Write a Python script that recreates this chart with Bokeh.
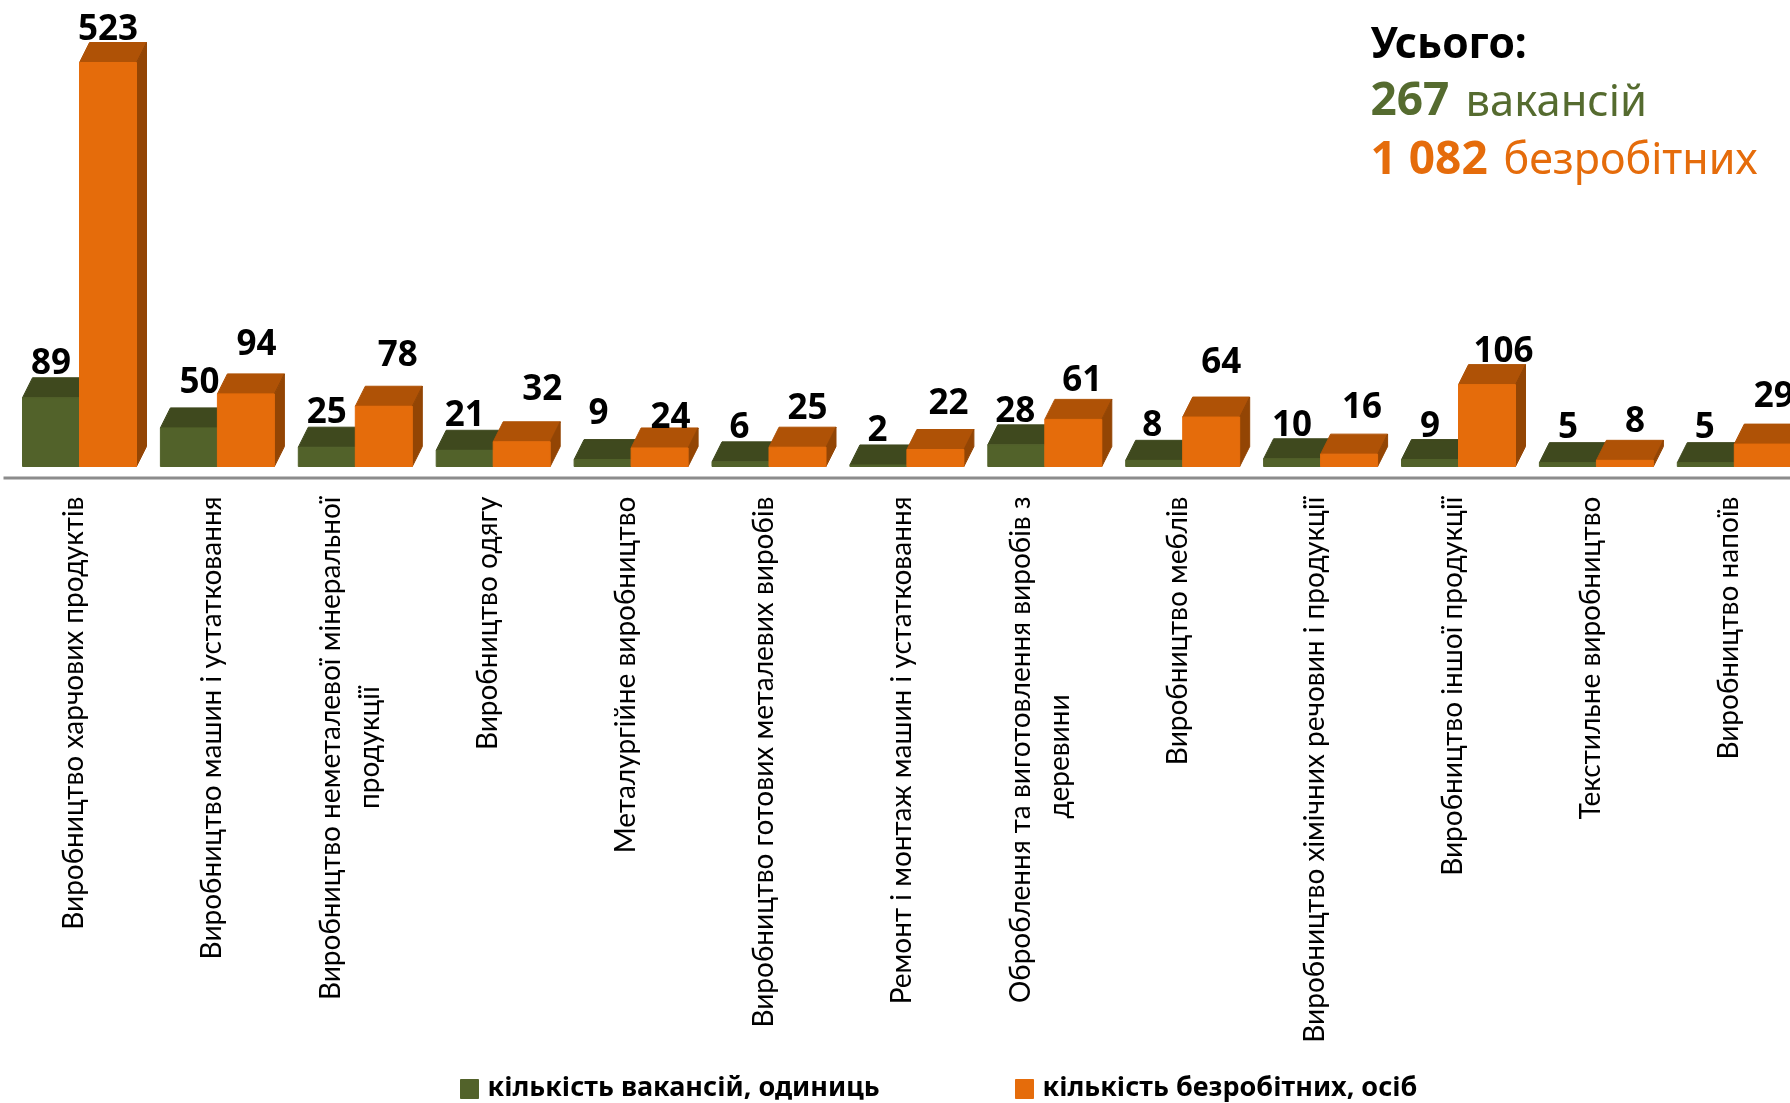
from bokeh.plotting import figure
from bokeh.models import ColumnDataSource, Range1d
from bokeh.core.properties import value
from bokeh.embed import file_html
from bokeh.resources import INLINE
import math

categories = [
    "Виробництво харчових продуктів",
    "Виробництво машин і устатковання",
    "Виробництво неметалевої мінеральної\nпродукції",
    "Виробництво одягу",
    "Металургійне виробництво",
    "Виробництво готових металевих виробів",
    "Ремонт і монтаж машин і устатковання",
    "Оброблення та виготовлення виробів з\nдеревини",
    "Виробництво меблів",
    "Виробництво хімічних речовин і продукції",
    "Виробництво іншої продукції",
    "Текстильне виробництво",
    "Виробництво напоїв",
]
vacancies = [89, 50, 25, 21, 9, 6, 2, 28, 8, 10, 9, 5, 5]
unemployed = [523, 94, 78, 32, 24, 25, 22, 61, 64, 16, 106, 8, 29]

# label nudges in screen pixels, relative to the top centre of each bar's front
vac_dx = [0, 10.5, 0, 0, -4, -1, -1, -1, -2, 0, 0, 0, -1]
vac_dy = [23, 34, 23, 23, 35, 23, 22.5, 22, 23, 22, 22, 24, 24]
une_dx = [0, 10.5, 14, 20.5, 11, 10, 13, 9, 10, 13, 16.5, 10, 11]
une_dy = [22, 38, 39, 41, 18.5, 27, 35, 27, 43, 35, 22, 27, 36]

# layout (screen pixels)
W, H = 1790, 1103
BASE_PX = 466.0
PX_PER_UNIT = 404.0 / 523
PX_PER_GROUP = 137.9
X0_PX = 22.0
BAR_PX = 57.0
DEPTH_X_PX = 10.0
DEPTH_Y_PX = 20.0
BASELINE_FIX = 0.4  # the renderer draws alphabetic text this many ems below its anchor

GREEN, GREEN_TOP = "#52622A", "#3F491E"
ORANGE, ORANGE_TOP, ORANGE_SIDE = "#E56C0B", "#AF5206", "#934504"
FONT_LABEL = "Lato"
FONT_BOLD = "Noto Sans"


def gx(px):
    return (px - X0_PX) / PX_PER_GROUP


def vy(py):
    return (BASE_PX - py) / PX_PER_UNIT


p = figure(
    width=W, height=H, output_backend="svg", toolbar_location=None,
    x_range=Range1d(gx(0), gx(W)), y_range=Range1d(vy(H), vy(0)),
    min_border=0, min_border_left=0, min_border_right=0, min_border_top=0, min_border_bottom=0,
    outline_line_color=None, x_axis_location=None, y_axis_location=None,
)
p.grid.visible = False
p.background_fill_color = "white"
p.border_fill_color = "white"
p.styles = {"position": "fixed", "left": "0", "top": "0"}

bar_w = BAR_PX / PX_PER_GROUP
dg = DEPTH_X_PX / PX_PER_GROUP
dv = DEPTH_Y_PX / PX_PER_UNIT


def draw_bars(values, offset, front, top, side=None):
    lefts = [i + offset for i in range(len(values))]
    rights = [l + bar_w for l in lefts]
    p.patches(
        [[l, r, r + dg, l + dg] for l, r in zip(lefts, rights)],
        [[v, v, v + dv, v + dv] for v in values],
        fill_color=top, line_color=top,
    )
    if side:
        p.patches(
            [[r, r + dg, r + dg, r] for r in rights],
            [[0, dv, v + dv, v] for v in values],
            fill_color=side, line_color=side,
        )
    p.quad(left=lefts, right=rights, bottom=0, top=values, fill_color=front,
           line_color=front, line_width=1)


draw_bars(vacancies, 0, GREEN, GREEN_TOP)
draw_bars(unemployed, bar_w, ORANGE, ORANGE_TOP, ORANGE_SIDE)

# axis line
p.segment(x0=[gx(3)], y0=[vy(477.5)], x1=[gx(W)], y1=[vy(477.5)], line_color="#8C8C8C", line_width=3)

# value labels
VALUE_SIZE = 35
for vals, off, dxs, dys in ((vacancies, 0.5 * bar_w, vac_dx, vac_dy),
                            (unemployed, 1.5 * bar_w, une_dx, une_dy)):
    src = ColumnDataSource(dict(
        x=[i + off for i in range(len(vals))], y=vals, t=[str(v) for v in vals],
        dx=dxs, dy=[-d - BASELINE_FIX * VALUE_SIZE for d in dys],
    ))
    p.text(x="x", y="y", text="t", source=src, x_offset="dx", y_offset="dy",
           text_align="center", text_baseline="alphabetic", text_color="black",
           text_font=value(FONT_BOLD), text_font_style="bold", text_font_size=f"{VALUE_SIZE}px")

# category labels
LABEL_SIZE = 28
LABEL_TOP = 496
ONE_LINE_BASE = 61 - BASELINE_FIX * LABEL_SIZE
TWO_LINE_BASES = (42 - BASELINE_FIX * LABEL_SIZE, 81 - BASELINE_FIX * LABEL_SIZE)
SECOND_LINE_CENTRE = {2: 747, 7: 756}
for i, c in enumerate(categories):
    lines = c.split("\n")
    if len(lines) == 1:
        xs, ys, ts, aligns = [i + ONE_LINE_BASE / PX_PER_GROUP], [vy(LABEL_TOP)], lines, ["right"]
    else:
        xs = [i + b / PX_PER_GROUP for b in TWO_LINE_BASES]
        ys = [vy(LABEL_TOP), vy(SECOND_LINE_CENTRE[i])]
        ts, aligns = lines, ["right", "center"]
    p.text(x=xs, y=ys, text=ts, angle=math.pi / 2, text_align=aligns,
           text_baseline="alphabetic", text_color="black",
           text_font=value(FONT_LABEL), text_font_size=f"{LABEL_SIZE}px")


# totals
def note(px, py, txt, color, bold, size):
    p.text(x=[gx(px)], y=[vy(py - BASELINE_FIX * size)], text=[txt], text_color=color,
           text_font=value(FONT_BOLD), text_font_style="bold" if bold else "normal",
           text_font_size=f"{size}px", text_align="left", text_baseline="alphabetic")


note(1370, 58, "Усього:", "black", True, 42.5)
note(1370, 116, "267", "#556B2F", True, 46)
note(1465, 116, "вакансій", "#556B2F", False, 43.5)
note(1370, 174, "1 082", "#E56C0B", True, 46)
note(1503, 174, "безробітних", "#E56C0B", False, 43)


# legend
def legend_item(px, txt, color):
    p.quad(left=[gx(px)], right=[gx(px + 18)], bottom=[vy(1098)], top=[vy(1079)],
           fill_color=color, line_color=color)
    note(px + 27, 1096, txt, "black", True, 27)


legend_item(460, "кількість вакансій, одиниць", "#52622A")
legend_item(1015, "кількість безробітних, осіб", "#E56C0B")

open("out.html", "w").write(file_html(p, INLINE))
